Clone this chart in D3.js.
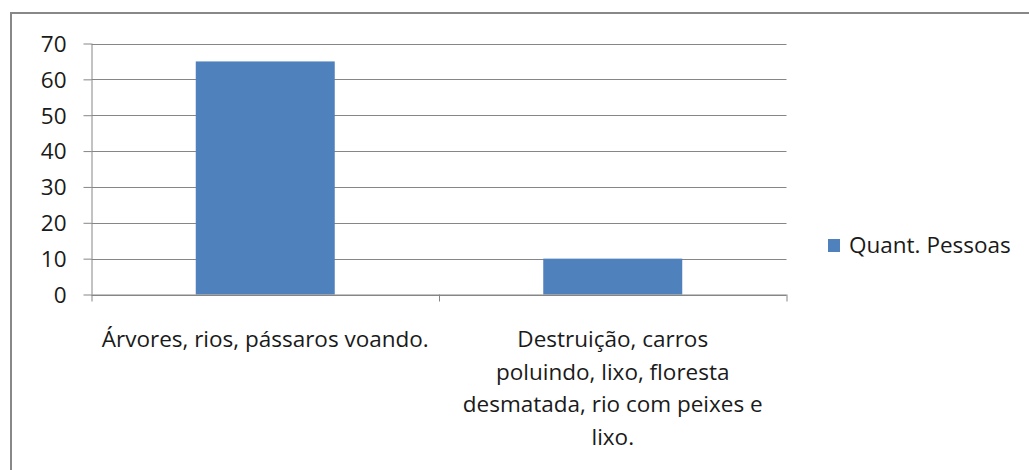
<!DOCTYPE html>
<html>
<head>
<meta charset="utf-8">
<script src="https://cdn.jsdelivr.net/npm/d3@7"></script>
<style>
  html, body { margin: 0; padding: 0; background: #fff; }
  svg { display: block; }
  text { font-family: "Open Sans", "Noto Sans", sans-serif; fill: #1a1a1a; }
</style>
</head>
<body>
<svg id="chart" width="1029" height="470"></svg>
<script>
// Chart data
const categories = [
  "Árvores, rios, pássaros voando.",
  "Destruição, carros\npoluindo, lixo, floresta\ndesmatada, rio com peixes e\nlixo."
];
const seriesName = "Quant. Pessoas";
const values = [65, 10];
const yTicks = [0, 10, 20, 30, 40, 50, 60, 70];

const barColor = "#4f81bd";
const gridColor = "#868686";
const fontSize = 22.5;

const svg = d3.select("#chart");
const W = 1029, H = 470;

// Outer frame (extends past the right and bottom edges)
svg.append("rect")
  .attr("x", 11).attr("y", 13)
  .attr("width", W + 20).attr("height", H + 20)
  .attr("fill", "#fff")
  .attr("stroke", "#888").attr("stroke-width", 2);

const plot = { left: 91.5, right: 786.5, top: 43.5, bottom: 294.5 };

const y = d3.scaleLinear().domain([0, 70]).range([plot.bottom, plot.top]);
const x = d3.scaleBand().domain(d3.range(categories.length))
  .range([plot.left, plot.right]).paddingInner(0.6).paddingOuter(0.3);
const xEdge = d3.scaleLinear().domain([0, categories.length]).range([plot.left, plot.right]);

// Horizontal gridlines
svg.append("g").selectAll("line").data(yTicks).join("line")
  .attr("x1", plot.left).attr("x2", plot.right)
  .attr("y1", d => Math.round(y(d)) + 0.5).attr("y2", d => Math.round(y(d)) + 0.5)
  .attr("stroke", gridColor).attr("stroke-width", 1);

// Y axis
const yAxis = svg.append("g")
  .attr("transform", `translate(${plot.left},0)`)
  .call(d3.axisLeft(y).tickValues(yTicks).tickSize(8).tickPadding(17));
yAxis.selectAll("line").attr("stroke", gridColor);
yAxis.select(".domain").attr("stroke", gridColor).attr("d", `M0.5,${plot.top}V${plot.bottom}`);
yAxis.selectAll("text")
  .style("font-family", '"Open Sans", sans-serif')
  .attr("font-size", fontSize).attr("fill", "#1a1a1a")
  .attr("dy", "0.35em");

// Bars
svg.append("g").selectAll("rect").data(values).join("rect")
  .attr("x", (d, i) => x(i))
  .attr("y", d => y(d))
  .attr("width", x.bandwidth())
  .attr("height", d => y(0) - y(d))
  .attr("fill", barColor);

// Category axis with ticks at category boundaries
const xAxis = svg.append("g")
  .attr("transform", `translate(0,${plot.bottom})`)
  .call(d3.axisBottom(xEdge).tickValues(d3.range(categories.length + 1))
    .tickSize(7).tickFormat(""));
xAxis.selectAll("line").attr("stroke", gridColor);
xAxis.select(".domain").attr("stroke", gridColor).attr("d", `M${plot.left},0.5H${plot.right}`);

// Category labels
const lineHeight = 32.5;
const labels = svg.append("g").selectAll("text").data(categories).join("text")
  .attr("x", (d, i) => x(i) + x.bandwidth() / 2)
  .attr("y", 347)
  .attr("text-anchor", "middle")
  .attr("font-size", fontSize);
labels.each(function(d) {
  const t = d3.select(this);
  d.split("\n").forEach((line, k) => {
    t.append("tspan")
      .attr("x", t.attr("x"))
      .attr("dy", k === 0 ? 0 : lineHeight)
      .text(line);
  });
});

// Legend
const legend = svg.append("g").attr("transform", "translate(828,239)");
legend.append("rect").attr("width", 12).attr("height", 13).attr("fill", barColor);
legend.append("text").attr("x", 21).attr("y", 6.5).attr("dy", "0.35em")
  .attr("font-size", fontSize).text(seriesName);
</script>
</body>
</html>
